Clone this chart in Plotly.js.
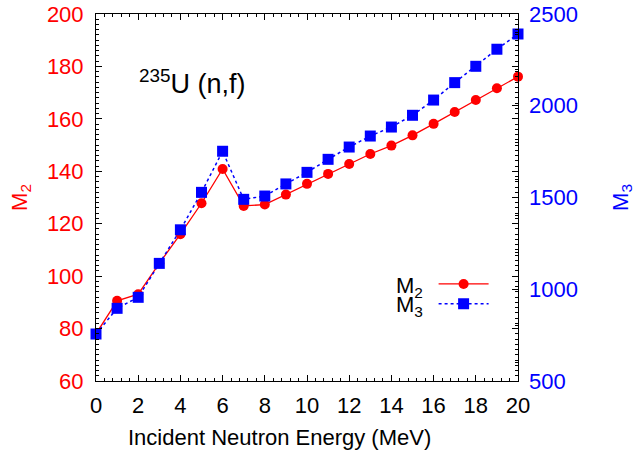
<!DOCTYPE html>
<html>
<head>
<meta charset="utf-8">
<script src="https://cdn.plot.ly/plotly-3.0.1.min.js"></script>
<style>html,body{margin:0;padding:0;background:#fff;}#chart{width:636px;height:453px;}</style>
</head>
<body>
<div id="chart"></div>
<script>
const energy = [0,1,2,3,4,5,6,7,8,9,10,11,12,13,14,15,16,17,18,19,20];
const m2 = [78.0,90.6,93.1,104.9,116.0,127.8,140.9,126.8,127.3,131.1,135.2,139.0,142.8,146.6,149.8,153.7,158.1,162.6,167.2,171.7,176.1];
const m3 = [756,896,956,1141,1324,1528,1752,1490,1508,1574,1637,1708,1775,1835,1884,1948,2031,2126,2215,2308,2391];
const xTicks = [0,2,4,6,8,10,12,14,16,18,20];
const y1Ticks = [60,80,100,120,140,160,180,200];
const y2Ticks = [500,1000,1500,2000,2500];

const FONT = 'Liberation Sans, Arial, Helvetica, sans-serif';
const FS = 22;

const traces = [
  {x: energy, y: m2, name: ' ', type: 'scatter', mode: 'lines+markers',
   line: {color: '#ff0000', width: 1.3},
   marker: {symbol: 'circle', size: 10, color: '#ff0000'},
   cliponaxis: false, yaxis: 'y'},
  {x: energy, y: m3, name: ' ', type: 'scatter', mode: 'lines+markers',
   line: {color: '#0000ff', width: 1.5, dash: 'dot'},
   marker: {symbol: 'square', size: 11, color: '#0000ff'},
   cliponaxis: false, yaxis: 'y2'}
];

const layout = {
  width: 636, height: 453,
  margin: {l: 96, r: 118, t: 14, b: 72},
  paper_bgcolor: '#fff', plot_bgcolor: '#fff',
  font: {family: FONT, size: FS, color: '#000'},
  showlegend: true,
  legend: {x: 0.80, xanchor: 'left', y: 0.237, yanchor: 'middle',
           font: {size: 13}, bgcolor: 'rgba(0,0,0,0)', itemwidth: 50, tracegroupgap: 0},
  xaxis: {range: [0, 20], tickvals: xTicks, showgrid: false, zeroline: false,
          showline: true, linecolor: '#000', linewidth: 1, mirror: 'ticks',
          ticks: 'inside', ticklen: 6, tickcolor: '#000', ticklabelstandoff: 5,
          minor: {dtick: 0.4, ticklen: 3, tickcolor: '#000', ticks: 'inside', showgrid: false},
          tickfont: {size: FS, color: '#000'}},
  yaxis: {range: [60, 200], tickvals: y1Ticks, showgrid: false, zeroline: false,
          showline: true, linecolor: '#000', linewidth: 1, mirror: 'ticks',
          ticks: 'inside', ticklen: 6, tickcolor: '#000', ticklabelstandoff: 7,
          minor: {dtick: 2, ticklen: 3, tickcolor: '#000', ticks: 'inside', showgrid: false},
          tickfont: {size: FS, color: '#ff0000'},
          title: {text: 'M<sub>2</sub>', font: {size: FS, color: '#ff0000'}, standoff: 13}},
  yaxis2: {range: [500, 2500], tickvals: y2Ticks, overlaying: 'y', side: 'right',
           showgrid: false, zeroline: false, showline: false,
           ticks: 'inside', ticklen: 6, tickcolor: '#000', ticklabelstandoff: 10,
           minor: {dtick: 100, ticklen: 3, tickcolor: '#000', ticks: 'inside', showgrid: false},
           tickfont: {size: FS, color: '#0000ff'},
           title: {text: 'M<sub>3</sub>', font: {size: FS, color: '#0000ff'}, standoff: 35}},
  annotations: [
    {xref: 'paper', yref: 'paper', x: 0.436, y: -0.153, xanchor: 'center', yanchor: 'middle',
     text: 'Incident Neutron Energy (MeV)', showarrow: false, font: {size: FS, color: '#000'}},
    {xref: 'x', yref: 'paper', x: 1.95, y: 0.815, xanchor: 'left', yanchor: 'middle',
     text: '<sup>235</sup>U (n,f)', showarrow: false, font: {size: 27, color: '#000'}},
    {xref: 'paper', yref: 'paper', x: 0.78, y: 0.255, xanchor: 'right', yanchor: 'middle',
     text: 'M<sub>2</sub>', showarrow: false, font: {size: FS, color: '#000'}},
    {xref: 'paper', yref: 'paper', x: 0.78, y: 0.205, xanchor: 'right', yanchor: 'middle',
     text: 'M<sub>3</sub>', showarrow: false, font: {size: FS, color: '#000'}}
  ]
};

Plotly.newPlot('chart', traces, layout, {displayModeBar: false, staticPlot: true});
</script>
</body>
</html>
